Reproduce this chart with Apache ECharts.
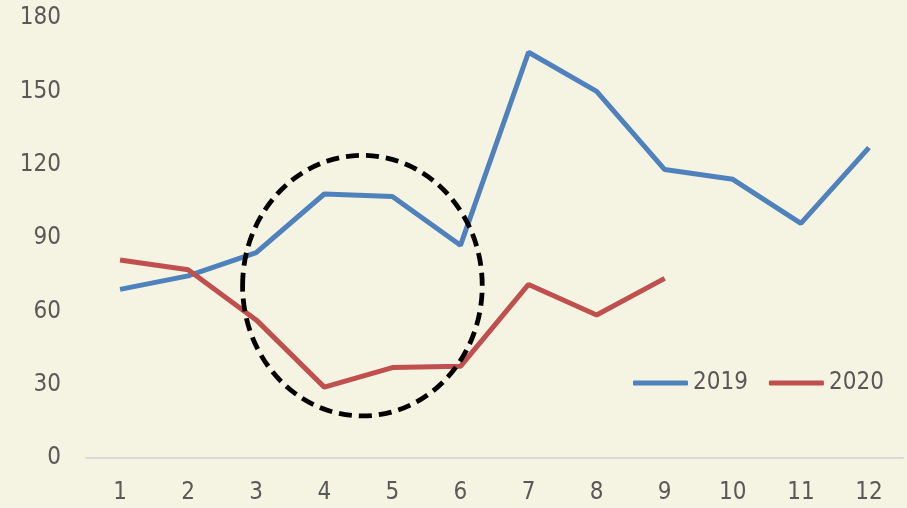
<!DOCTYPE html>
<html>
<head>
<meta charset="utf-8">
<script src="https://cdn.jsdelivr.net/npm/echarts@6/dist/echarts.min.js"></script>
<style>
  html, body { margin: 0; padding: 0; background: #F5F3E2; }
  #main { width: 907px; height: 508px; }
</style>
</head>
<body>
<div id="main"></div>
<script>
var months = ['1', '2', '3', '4', '5', '6', '7', '8', '9', '10', '11', '12'];
var seriesNames = ['2019', '2020'];
var values2019 = [69, 74.5, 84, 108, 107, 87, 166, 150, 118, 114, 96, 127];
var values2020 = [81, 77, 56.5, 29, 37, 37.5, 71, 58.5, 73.5];
var yTicks = [0, 30, 60, 90, 120, 150, 180];

// highlighted region: between months 4 and 5, centred near value 70.5
var circleMonths = [3, 4];
var circleShift = 0.06;          // in categories, right of the midpoint
var circleValue = 70.5;
var circleHalf = [1.76, 53.3];   // half width in categories, half height in values

var font = '"DejaVu Sans Condensed", "DejaVu Sans", sans-serif';
var myChart = echarts.init(document.getElementById('main'));

var option = {
    backgroundColor: '#F5F3E2',
    animation: false,
    grid: { left: 86, right: 4, top: 18, bottom: 50 },
    legend: {
        left: 628,
        top: 366,
        itemWidth: 55,
        itemHeight: 5,
        itemGap: 21,
        icon: 'roundRect',
        textStyle: { fontFamily: font, fontSize: 24, color: '#595959' },
        data: seriesNames
    },
    xAxis: {
        type: 'category',
        data: months,
        boundaryGap: true,
        axisLine: { lineStyle: { color: '#D9D9D9', width: 2 } },
        axisTick: { show: false },
        axisLabel: { fontFamily: font, fontSize: 24, color: '#595959', margin: 23 }
    },
    yAxis: {
        type: 'value',
        min: yTicks[0],
        max: yTicks[yTicks.length - 1],
        interval: 30,
        splitLine: { show: false },
        axisLine: { show: false },
        axisTick: { show: false },
        axisLabel: { fontFamily: font, fontSize: 24, color: '#595959', margin: 25 }
    },
    series: [
        {
            name: seriesNames[0],
            type: 'line',
            data: values2019,
            symbol: 'none',
            itemStyle: { color: '#4F81BD' },
            lineStyle: { color: '#4F81BD', width: 5 }
        },
        {
            name: seriesNames[1],
            type: 'line',
            data: values2020,
            symbol: 'none',
            itemStyle: { color: '#C0504D' },
            lineStyle: { color: '#C0504D', width: 5 }
        }
    ]
};

myChart.setOption(option);

var a = myChart.convertToPixel({ gridIndex: 0 }, [circleMonths[0], circleValue]);
var b = myChart.convertToPixel({ gridIndex: 0 }, [circleMonths[1], circleValue + circleHalf[1]]);
var band = b[0] - a[0];
myChart.setOption({
    graphic: [{
        type: 'ellipse',
        shape: {
            cx: (a[0] + b[0]) / 2 + band * circleShift,
            cy: a[1],
            rx: band * circleHalf[0],
            ry: a[1] - b[1]
        },
        style: { fill: null, stroke: '#000', lineWidth: 4.8, lineDash: [13, 7] },
        z: 100
    }]
});
</script>
</body>
</html>
